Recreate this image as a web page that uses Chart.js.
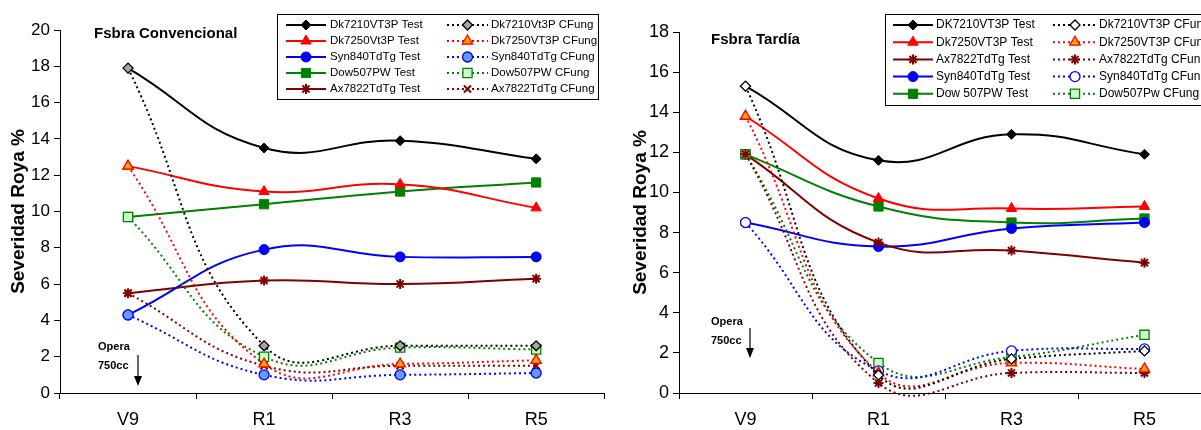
<!DOCTYPE html>
<html>
<head>
<meta charset="utf-8">
<script src="https://cdn.jsdelivr.net/npm/chart.js@4.4.1/dist/chart.umd.min.js"></script>
<style>
    html, body { margin: 0; padding: 0; background: #fff; overflow: hidden; }
    #wrap { position: relative; width: 1201px; height: 430px; overflow: hidden; }
    .box { position: absolute; top: 0; height: 430px; }
    #boxConv { left: 0; width: 612px; }
    #boxTard { left: 612px; width: 620px; }
</style>
</head>
<body>
<div id="wrap">
    <div class="box" id="boxConv"><canvas id="chartConv"></canvas></div>
    <div class="box" id="boxTard"><canvas id="chartTard"></canvas></div>
</div>
<script>
"use strict";

// --- data
const stages = ["V9", "R1", "R3", "R5"];

// Fsbra Convencional
const convLabelsTest = ["Dk7210VT3P Test", "Dk7250Vt3P Test", "Syn840TdTg Test", "Dow507PW Test", "Ax7822TdTg Test"];
const convLabelsFung = ["Dk7210Vt3P CFung", "Dk7250VT3P CFung", "Syn840TdTg CFung", "Dow507PW CFung", "Ax7822TdTg CFung"];
const convDk7210Test = [17.9, 13.5, 13.9, 12.9];
const convDk7250Test = [12.5, 11.1, 11.5, 10.2];
const convSyn840Test = [4.3, 7.9, 7.5, 7.5];
const convDow507Test = [9.7, 10.4, 11.1, 11.6];
const convAx7822Test = [5.5, 6.2, 6.0, 6.3];
const convDk7210Fung = [17.9, 2.6, 2.6, 2.6];
const convDk7250Fung = [12.5, 1.6, 1.6, 1.8];
const convSyn840Fung = [4.3, 1.0, 1.0, 1.1];
const convDow507Fung = [9.7, 2.0, 2.5, 2.4];
const convAx7822Fung = [5.5, 1.5, 1.5, 1.5];

// Fsbra Tardía
const tardLabelsTest = ["DK7210VT3P Test", "Dk7250VT3P Test", "Ax7822TdTg Test", "Syn840TdTg Test", "Dow 507PW Test"];
const tardLabelsFung = ["Dk7210VT3P CFung", "Dk7250VT3P CFung", "Ax7822TdTg CFung", "Syn840TdTg CFung", "Dow507Pw CFung"];
const tardDk7210Test = [15.3, 11.6, 12.9, 11.9];
const tardDk7250Test = [13.8, 9.7, 9.2, 9.3];
const tardAx7822Test = [11.9, 7.5, 7.1, 6.5];
const tardSyn840Test = [8.5, 7.3, 8.2, 8.5];
const tardDow507Test = [11.9, 9.3, 8.5, 8.7];
const tardDk7210Fung = [15.3, 0.9, 1.7, 2.1];
const tardDk7250Fung = [13.8, 1.0, 1.5, 1.2];
const tardAx7822Fung = [11.9, 0.5, 1.0, 1.0];
const tardSyn840Fung = [8.5, 1.1, 2.1, 2.2];
const tardDow507Fung = [11.9, 1.5, 1.8, 2.9];

const FONT = '"Liberation Sans", Arial, sans-serif';
const BLACK = "#000000", RED = "#ff0000", BLUE = "#0000ff", GREEN = "#008000", MAROON = "#800000";
const SMOOTH = 0.45;

Chart.defaults.font.family = FONT;
Chart.defaults.color = "#000";

function testSet(label, data, color, marker, size) {
    return {
        label, data,
        borderColor: color, backgroundColor: color, borderWidth: 2,
        pointStyle: marker, pointRadius: size,
        pointBackgroundColor: color, pointBorderColor: color,
        pointBorderWidth: marker === "star" ? 2 : 1,
        tension: SMOOTH, capBezierPoints: false, clip: false, order: 1,
    };
}

function fungSet(label, data, color, fill, marker, size) {
    return {
        label, data,
        borderColor: color, backgroundColor: fill, borderWidth: 2, borderDash: [2, 3],
        pointStyle: marker, pointRadius: size,
        pointBackgroundColor: fill, pointBorderColor: color,
        pointBorderWidth: marker === "star" || marker === "crossRot" ? 2 : 1.3,
        tension: SMOOTH, capBezierPoints: false, clip: false, order: 0,
    };
}

// two-column boxed legend, row i = test i + fung i
const boxLegend = {
    id: "boxLegend",
    afterDraw(chart, args, o) {
        const ctx = chart.ctx;
        const ds = chart.data.datasets;
        const half = ds.length / 2;
        ctx.save();
        ctx.fillStyle = "#fff";
        ctx.fillRect(o.x, o.y, o.w, o.h);
        ctx.strokeStyle = "#000";
        ctx.lineWidth = 1;
        ctx.strokeRect(o.x + 0.5, o.y + 0.5, o.w, o.h);
        ctx.font = o.fontSize + "px " + FONT;
        ctx.textBaseline = "middle";
        for (let i = 0; i < half; i++) {
            const y = o.row0 + i * o.rowGap;
            [[ds[i], o.col1], [ds[i + half], o.col2]].forEach(([d, c]) => {
                ctx.save();
                ctx.strokeStyle = d.borderColor;
                ctx.lineWidth = d.borderWidth;
                ctx.setLineDash(d.borderDash || []);
                ctx.beginPath();
                ctx.moveTo(c.x1, y);
                ctx.lineTo(c.x2, y);
                ctx.stroke();
                ctx.setLineDash([]);
                ctx.fillStyle = d.pointBackgroundColor;
                ctx.strokeStyle = d.pointBorderColor;
                ctx.lineWidth = d.pointBorderWidth;
                Chart.helpers.drawPoint(ctx, {
                    pointStyle: d.pointStyle, radius: d.pointRadius, rotation: 0, borderWidth: d.pointBorderWidth,
                }, (c.x1 + c.x2) / 2, y);
                ctx.restore();
                ctx.fillStyle = "#000";
                ctx.fillText(d.label, c.tx, y);
            });
        }
        ctx.restore();
    },
};

// chart title and the "Opera 750cc" arrow note
const notes = {
    id: "notes",
    afterDraw(chart, args, o) {
        const ctx = chart.ctx;
        ctx.save();
        ctx.fillStyle = "#000";
        ctx.strokeStyle = "#000";
        ctx.textBaseline = "middle";
        ctx.font = "bold " + o.titleSize + "px " + FONT;
        ctx.fillText(o.title, o.titleX, o.titleY);
        ctx.font = "bold 11px " + FONT;
        ctx.fillText(o.noteLines[0], o.noteX, o.noteY1);
        ctx.fillText(o.noteLines[1], o.noteX, o.noteY2);
        ctx.lineWidth = 1.2;
        ctx.beginPath();
        ctx.moveTo(o.arrowX, o.arrowTop);
        ctx.lineTo(o.arrowX, o.arrowBottom - 8);
        ctx.stroke();
        ctx.beginPath();
        ctx.moveTo(o.arrowX - 4, o.arrowBottom - 10);
        ctx.lineTo(o.arrowX + 4, o.arrowBottom - 10);
        ctx.lineTo(o.arrowX, o.arrowBottom);
        ctx.closePath();
        ctx.fill();
        ctx.restore();
    },
};

function makeOptions(cfg) {
    return {
        responsive: true,
        maintainAspectRatio: false,
        animation: false,
        layout: { padding: { left: 0, top: cfg.top, right: cfg.right, bottom: 0 } },
        plugins: {
            legend: { display: false },
            tooltip: { enabled: false },
            boxLegend: cfg.legend,
            notes: cfg.notes,
        },
        scales: {
            x: {
                offset: true,
                grid: { offset: true, drawOnChartArea: false, tickLength: 6, color: "#000" },
                border: { color: "#000", width: 1 },
                ticks: { color: "#000", font: { size: 18 }, padding: 10 },
                afterFit: (s) => { s.height = 430 - 393; },
            },
            y: {
                min: 0,
                max: cfg.yMax,
                ticks: { stepSize: 2, color: "#000", font: { size: cfg.yTickSize }, padding: 4 },
                grid: { drawOnChartArea: false, tickLength: 6, color: "#000" },
                border: { color: "#000", width: 1 },
                title: {
                    display: true,
                    text: "Severidad Roya %",
                    color: "#000",
                    font: { size: 19, weight: "bold" },
                    padding: { top: cfg.titlePad, bottom: 0 },
                },
                afterFit: (s) => { s.width = cfg.axisW; },
            },
        },
    };
}

// --- Fsbra Convencional
new Chart(document.getElementById("chartConv"), {
    type: "line",
    data: {
        labels: stages,
        datasets: [
            testSet(convLabelsTest[0], convDk7210Test, BLACK, "rectRot", 5),
            testSet(convLabelsTest[1], convDk7250Test, RED, "triangle", 6),
            testSet(convLabelsTest[2], convSyn840Test, BLUE, "circle", 5),
            testSet(convLabelsTest[3], convDow507Test, GREEN, "rect", 6.5),
            testSet(convLabelsTest[4], convAx7822Test, MAROON, "star", 5),
            fungSet(convLabelsFung[0], convDk7210Fung, BLACK, "#a6a6a6", "rectRot", 5),
            fungSet(convLabelsFung[1], convDk7250Fung, RED, "#ffa500", "triangle", 6),
            fungSet(convLabelsFung[2], convSyn840Fung, BLUE, "#6699ff", "circle", 5),
            fungSet(convLabelsFung[3], convDow507Fung, GREEN, "#ccffcc", "rect", 6.5),
            fungSet(convLabelsFung[4], convAx7822Fung, MAROON, MAROON, "crossRot", 5),
        ],
    },
    options: makeOptions({
        top: 30, right: 2, yMax: 20, yTickSize: 17, axisW: 60, titlePad: 7,
        legend: {
            x: 277, y: 14, w: 321, h: 85, fontSize: 11.5, row0: 25, rowGap: 16,
            col1: { x1: 286, x2: 326, tx: 330 },
            col2: { x1: 447, x2: 488, tx: 491 },
        },
        notes: {
            title: "Fsbra Convencional", titleSize: 15, titleX: 94, titleY: 34,
            noteLines: ["Opera", "750cc"], noteX: 98, noteY1: 347, noteY2: 366,
            arrowX: 138, arrowTop: 355, arrowBottom: 386,
        },
    }),
    plugins: [boxLegend, notes],
});

// --- Fsbra Tardía
new Chart(document.getElementById("chartTard"), {
    type: "line",
    data: {
        labels: stages,
        datasets: [
            testSet(tardLabelsTest[0], tardDk7210Test, BLACK, "rectRot", 5),
            testSet(tardLabelsTest[1], tardDk7250Test, RED, "triangle", 6),
            testSet(tardLabelsTest[2], tardAx7822Test, MAROON, "star", 5),
            testSet(tardLabelsTest[3], tardSyn840Test, BLUE, "circle", 5),
            testSet(tardLabelsTest[4], tardDow507Test, GREEN, "rect", 6.5),
            fungSet(tardLabelsFung[0], tardDk7210Fung, BLACK, "#ffffff", "rectRot", 5),
            fungSet(tardLabelsFung[1], tardDk7250Fung, RED, "#ffa500", "triangle", 6),
            fungSet(tardLabelsFung[2], tardAx7822Fung, MAROON, MAROON, "star", 5),
            fungSet(tardLabelsFung[3], tardSyn840Fung, BLUE, "#ffffff", "circle", 5),
            fungSet(tardLabelsFung[4], tardDow507Fung, GREEN, "#ccffcc", "rect", 6.5),
        ],
    },
    options: makeOptions({
        top: 32, right: 21, yMax: 18, yTickSize: 18, axisW: 67, titlePad: 17,
        legend: {
            x: 885 - 612, y: 14, w: 340, h: 91, fontSize: 12, row0: 25, rowGap: 17.2,
            col1: { x1: 893 - 612, x2: 933 - 612, tx: 936 - 612 },
            col2: { x1: 1053 - 612, x2: 1097 - 612, tx: 1099 - 612 },
        },
        notes: {
            title: "Fsbra Tardía", titleSize: 15, titleX: 711 - 612, titleY: 40,
            noteLines: ["Opera", "750cc"], noteX: 711 - 612, noteY1: 322, noteY2: 341,
            arrowX: 750 - 612, arrowTop: 328, arrowBottom: 358,
        },
    }),
    plugins: [boxLegend, notes],
});
</script>
</body>
</html>
